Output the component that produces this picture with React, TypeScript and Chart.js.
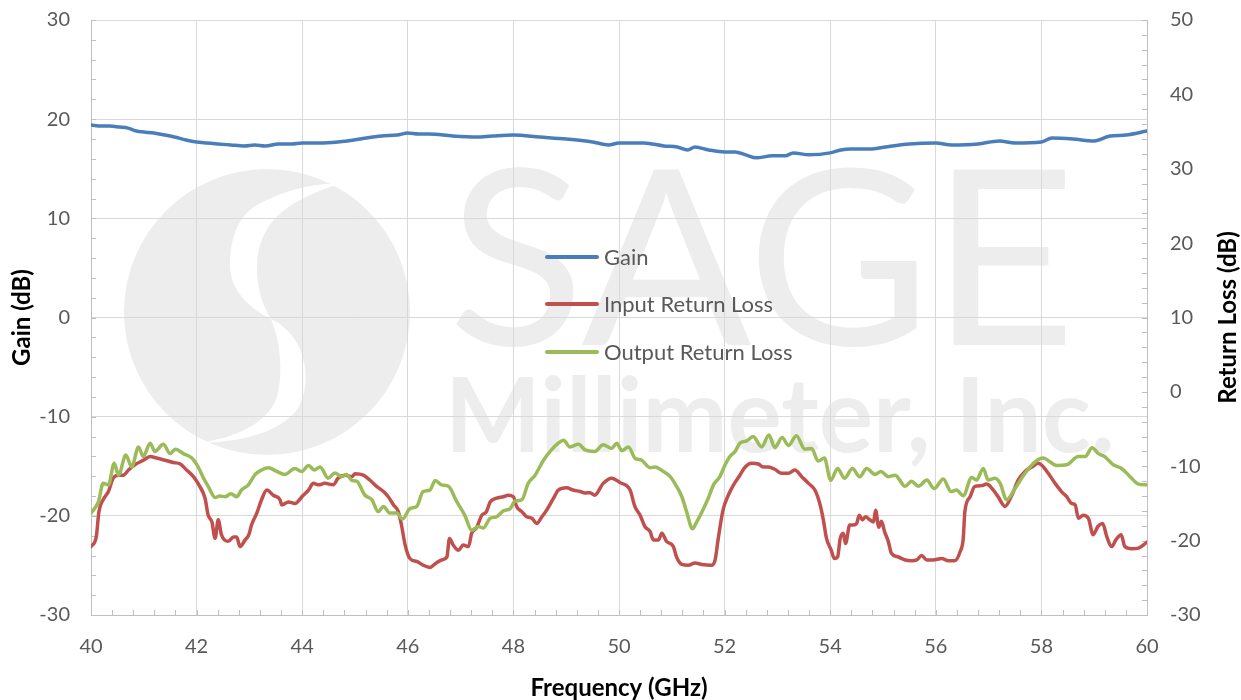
import React, { useEffect, useRef } from 'react';
import { Chart, registerables } from 'chart.js';

Chart.register(...registerables);

// ---------- data ----------
const gainFreq = [40.0, 40.2, 40.35, 40.54, 40.7, 40.86, 41.0, 41.19, 41.4, 41.58, 41.8, 42.0, 42.2, 42.4, 42.65, 42.9, 43.1, 43.3, 43.55, 43.8, 44.0, 44.4, 44.85, 45.1, 45.5, 45.8, 46.0, 46.2, 46.4, 46.85, 47.3, 47.6, 48.0, 48.5, 49.0, 49.5, 49.8, 50.0, 50.47, 50.85, 51.1, 51.3, 51.44, 51.7, 52.0, 52.2, 52.4, 52.6, 52.9, 53.15, 53.3, 53.6, 54.0, 54.2, 54.4, 54.8, 55.05, 55.5, 56.0, 56.3, 56.8, 57.2, 57.5, 58.0, 58.2, 58.6, 59.0, 59.3, 59.6, 60.0];
const gainDb = [19.4, 19.3, 19.3, 19.2, 19.1, 18.8, 18.7, 18.6, 18.4, 18.2, 17.9, 17.7, 17.6, 17.5, 17.4, 17.3, 17.4, 17.3, 17.5, 17.5, 17.6, 17.6, 17.8, 18.0, 18.3, 18.4, 18.6, 18.5, 18.5, 18.3, 18.2, 18.3, 18.4, 18.2, 18.0, 17.7, 17.4, 17.6, 17.6, 17.3, 17.2, 16.9, 17.2, 16.9, 16.7, 16.7, 16.4, 16.1, 16.3, 16.3, 16.6, 16.4, 16.6, 16.9, 17.0, 17.0, 17.2, 17.5, 17.6, 17.4, 17.5, 17.8, 17.6, 17.7, 18.1, 18.0, 17.8, 18.3, 18.4, 18.8];

const inputFreq = [40.0, 40.1, 40.15, 40.23, 40.33, 40.42, 40.52, 40.61, 40.71, 40.83, 40.99, 41.12, 41.24, 41.4, 41.56, 41.69, 41.81, 41.94, 42.06, 42.16, 42.22, 42.29, 42.35, 42.41, 42.47, 42.6, 42.7, 42.76, 42.82, 42.92, 42.99, 43.04, 43.14, 43.23, 43.33, 43.45, 43.58, 43.61, 43.74, 43.86, 44.02, 44.12, 44.21, 44.31, 44.43, 44.59, 44.68, 44.81, 44.94, 45.0, 45.16, 45.28, 45.41, 45.54, 45.63, 45.73, 45.82, 45.88, 45.95, 46.04, 46.17, 46.29, 46.42, 46.52, 46.64, 46.74, 46.79, 46.86, 46.96, 47.05, 47.15, 47.21, 47.3, 47.4, 47.49, 47.56, 47.68, 47.81, 47.9, 48.0, 48.06, 48.16, 48.25, 48.35, 48.44, 48.54, 48.63, 48.76, 48.85, 49.01, 49.13, 49.26, 49.36, 49.45, 49.54, 49.7, 49.86, 50.02, 50.21, 50.3, 50.4, 50.49, 50.59, 50.65, 50.75, 50.81, 50.9, 51.03, 51.09, 51.19, 51.31, 51.44, 51.57, 51.75, 51.82, 51.88, 51.97, 52.07, 52.17, 52.29, 52.39, 52.51, 52.64, 52.73, 52.83, 52.95, 53.08, 53.21, 53.33, 53.46, 53.59, 53.71, 53.81, 53.87, 53.93, 54.02, 54.08, 54.14, 54.19, 54.25, 54.29, 54.37, 54.44, 54.5, 54.55, 54.61, 54.67, 54.75, 54.82, 54.86, 54.92, 54.97, 55.03, 55.1, 55.16, 55.29, 55.42, 55.54, 55.64, 55.73, 55.83, 55.95, 56.11, 56.24, 56.36, 56.46, 56.52, 56.55, 56.65, 56.74, 56.87, 56.96, 57.09, 57.18, 57.31, 57.44, 57.56, 57.69, 57.82, 57.94, 58.04, 58.13, 58.26, 58.38, 58.48, 58.57, 58.64, 58.7, 58.79, 58.89, 58.98, 59.07, 59.16, 59.24, 59.33, 59.41, 59.51, 59.58, 59.71, 59.84, 60.0];
const inputDb = [-20.8, -19.5, -16.1, -14.5, -13.4, -11.6, -11.2, -11.2, -10.5, -9.8, -9.2, -8.7, -8.9, -9.2, -9.5, -9.7, -10.5, -11.4, -12.7, -14.3, -16.6, -17.5, -19.7, -17.2, -19.2, -20.1, -19.5, -19.5, -20.8, -19.9, -19.2, -17.9, -16.3, -14.5, -13.2, -13.9, -14.5, -15.2, -14.8, -15.0, -13.9, -13.2, -12.3, -12.5, -12.3, -12.5, -11.6, -11.2, -11.4, -11.0, -11.2, -11.85, -12.7, -13.4, -14.1, -15.2, -16.1, -17.9, -20.6, -22.4, -22.8, -23.3, -23.6, -23.1, -22.6, -22.2, -19.7, -20.6, -21.3, -20.6, -20.8, -19.0, -18.3, -16.6, -16.1, -14.8, -14.3, -14.1, -13.9, -14.1, -15.4, -16.1, -16.8, -17.0, -17.7, -16.8, -15.9, -14.3, -13.2, -12.9, -13.2, -13.4, -13.6, -13.55, -13.9, -12.3, -11.6, -12.2, -13.2, -15.4, -16.6, -18.1, -18.8, -19.9, -19.9, -19.0, -20.1, -20.8, -22.2, -23.2, -23.3, -23.0, -23.2, -23.3, -22.6, -19.7, -15.9, -13.9, -12.5, -11.2, -10.1, -9.6, -9.7, -10.1, -10.1, -10.4, -10.95, -10.95, -10.5, -11.4, -12.3, -13.2, -15.2, -17.2, -19.7, -21.3, -22.4, -22.2, -19.7, -19.0, -20.4, -17.9, -17.9, -17.7, -16.6, -17.2, -16.8, -17.2, -17.5, -15.9, -18.2, -17.4, -18.8, -20.1, -21.7, -22.2, -22.6, -22.7, -22.6, -22.0, -22.6, -22.6, -22.4, -22.7, -22.7, -21.5, -19.7, -16.1, -14.1, -12.7, -12.6, -12.4, -13.2, -14.1, -15.4, -13.9, -11.85, -10.7, -10.1, -9.6, -10.1, -10.95, -12.3, -13.4, -14.1, -15.0, -15.2, -17.0, -16.6, -17.0, -19.2, -18.1, -17.7, -19.5, -20.8, -19.9, -19.2, -20.8, -21.1, -21.0, -20.2];

const outputFreq = [40.0, 40.14, 40.23, 40.33, 40.44, 40.52, 40.66, 40.77, 40.9, 40.99, 41.12, 41.21, 41.37, 41.5, 41.6, 41.75, 41.91, 42.03, 42.13, 42.22, 42.35, 42.44, 42.54, 42.65, 42.76, 42.85, 42.98, 43.11, 43.23, 43.36, 43.52, 43.67, 43.86, 43.99, 44.12, 44.23, 44.34, 44.49, 44.62, 44.75, 44.84, 44.94, 45.03, 45.19, 45.32, 45.44, 45.54, 45.66, 45.79, 45.9, 46.04, 46.17, 46.29, 46.42, 46.52, 46.64, 46.77, 46.93, 47.08, 47.21, 47.34, 47.43, 47.56, 47.68, 47.81, 47.94, 48.03, 48.16, 48.28, 48.41, 48.57, 48.72, 48.85, 48.95, 49.07, 49.23, 49.36, 49.54, 49.7, 49.86, 49.96, 50.05, 50.18, 50.3, 50.43, 50.59, 50.68, 50.84, 50.97, 51.09, 51.19, 51.28, 51.39, 51.47, 51.6, 51.69, 51.79, 51.91, 52.01, 52.1, 52.2, 52.29, 52.42, 52.54, 52.7, 52.84, 52.95, 53.09, 53.21, 53.36, 53.52, 53.65, 53.77, 53.89, 54.01, 54.14, 54.27, 54.42, 54.56, 54.69, 54.85, 54.96, 55.1, 55.23, 55.42, 55.54, 55.67, 55.83, 55.97, 56.14, 56.29, 56.39, 56.52, 56.68, 56.77, 56.9, 56.99, 57.12, 57.22, 57.34, 57.5, 57.69, 57.88, 58.04, 58.16, 58.29, 58.48, 58.7, 58.83, 58.96, 59.08, 59.2, 59.36, 59.52, 59.68, 59.84, 60.0];
const outputDb = [-16.3, -14.8, -12.3, -12.5, -9.6, -11.2, -8.5, -10.1, -7.4, -8.7, -6.9, -8.0, -7.05, -8.3, -7.7, -8.3, -8.9, -10.1, -11.6, -12.7, -14.2, -14.0, -14.1, -13.7, -14.1, -13.2, -12.5, -11.1, -10.5, -10.2, -10.7, -11.1, -10.3, -10.7, -9.9, -10.5, -10.1, -11.6, -10.9, -11.4, -11.1, -11.9, -12.0, -13.9, -14.5, -16.1, -15.4, -16.3, -16.3, -17.1, -15.7, -15.4, -13.4, -13.2, -11.9, -12.5, -12.7, -14.8, -16.6, -18.6, -18.1, -18.3, -17.0, -16.8, -16.0, -15.7, -14.7, -14.5, -12.3, -11.2, -9.2, -7.8, -6.9, -6.5, -7.4, -7.05, -7.8, -8.0, -7.1, -7.6, -6.9, -7.9, -7.4, -8.9, -9.2, -10.2, -10.1, -10.7, -11.4, -12.7, -14.1, -16.1, -18.4, -17.5, -15.7, -14.3, -12.5, -11.4, -9.8, -8.7, -8.0, -6.9, -6.6, -6.0, -7.4, -5.8, -7.5, -6.15, -7.2, -5.9, -7.7, -7.6, -9.3, -8.9, -11.9, -10.3, -11.6, -10.3, -11.4, -10.3, -11.1, -10.7, -11.4, -11.2, -12.7, -12.0, -12.7, -11.85, -13.0, -11.7, -13.4, -13.2, -13.95, -11.5, -11.85, -10.3, -11.85, -11.6, -12.3, -14.5, -13.0, -10.95, -9.4, -8.9, -9.4, -9.9, -9.8, -8.7, -8.7, -7.5, -8.3, -8.7, -9.8, -10.3, -11.4, -12.4, -12.5];

const seriesNames = ['Gain', 'Input Return Loss', 'Output Return Loss'];
const seriesColors = ['#4a7ebb', '#c0504d', '#9bbb59'];
const xTitle = 'Frequency (GHz)';
const yTitle = 'Gain (dB)';
const y1Title = 'Return Loss (dB)';

const FONT = 'Lato, "Open Sans", sans-serif';
const TICK_COLOR = '#595959';
const GRID = '#d9d9d9';
const AXIS = '#bfbfbf';

const pts = (fs: number[], vs: number[]) => fs.map((f, i) => ({ x: f, y: vs[i] }));

// ---------- plugins ----------
const watermarkPlugin = {
  id: 'watermark',
  beforeDraw(chart: any) {
    const ctx = chart.ctx as CanvasRenderingContext2D;
    ctx.save();
    const wm = '#ededed';
    ctx.fillStyle = wm;
    ctx.beginPath();
    ctx.arc(267, 312, 143, 0, Math.PI * 2);
    ctx.fill();
    ctx.fillStyle = '#ffffff';
    ctx.beginPath();
    ctx.moveTo(340, 184);
    ctx.bezierCurveTo(310, 182, 270, 195, 250, 210);
    ctx.bezierCurveTo(232, 225, 228, 255, 231, 275);
    ctx.bezierCurveTo(234, 293, 252, 310, 271, 319);
    ctx.bezierCurveTo(262, 305, 256, 285, 257, 265);
    ctx.bezierCurveTo(258, 240, 268, 222, 287, 208);
    ctx.bezierCurveTo(303, 197, 320, 190, 340, 184);
    ctx.closePath();
    ctx.fill();
    ctx.beginPath();
    ctx.moveTo(271, 319);
    ctx.bezierCurveTo(280, 340, 283, 370, 278, 393);
    ctx.bezierCurveTo(272, 418, 245, 436, 200, 443);
    ctx.bezierCurveTo(250, 442, 285, 428, 298, 408);
    ctx.bezierCurveTo(310, 388, 307, 358, 295, 340);
    ctx.bezierCurveTo(288, 330, 280, 323, 271, 319);
    ctx.closePath();
    ctx.fill();
    ctx.fillStyle = wm;
    ctx.textBaseline = 'alphabetic';
    ctx.textAlign = 'left';
    const fitText = (t: string, x0: number, x1: number, base: number, font: string) => {
      ctx.font = font;
      const w = ctx.measureText(t).width;
      ctx.save();
      ctx.translate(x0, base);
      ctx.scale((x1 - x0) / w, 1);
      ctx.fillText(t, 0, 0);
      ctx.restore();
    };
    fitText('SAGE', 448, 1076, 345, `400 244px ${FONT}`);
    fitText('Millimeter, Inc.', 445, 1115, 452, `700 103px ${FONT}`);
    ctx.restore();
  },
};

const minorTicksPlugin = {
  id: 'minorTicks',
  beforeDatasetsDraw(chart: any) {
    const ctx = chart.ctx as CanvasRenderingContext2D;
    const { left, right, bottom } = chart.chartArea;
    const sx = chart.scales.x, sy = chart.scales.y, sy1 = chart.scales.y1;
    ctx.save();
    ctx.strokeStyle = AXIS;
    ctx.lineWidth = 1;
    ctx.beginPath();
    for (let v = -30; v <= 30; v += 2) {
      const p = Math.round(sy.getPixelForValue(v)) + 0.5;
      ctx.moveTo(left, p); ctx.lineTo(left + 5, p);
    }
    for (let v = -30; v <= 50; v += 2) {
      const p = Math.round(sy1.getPixelForValue(v)) + 0.5;
      ctx.moveTo(right - 5, p); ctx.lineTo(right, p);
    }
    for (let i = 0; i <= 50; i++) {
      const p = Math.round(sx.getPixelForValue(40 + i * 0.4)) + 0.5;
      ctx.moveTo(p, bottom); ctx.lineTo(p, bottom - 5);
    }
    ctx.stroke();
    ctx.restore();
  },
};

const overlayPlugin = {
  id: 'overlay',
  afterDraw(chart: any) {
    const ctx = chart.ctx as CanvasRenderingContext2D;
    const { top, bottom } = chart.chartArea;
    ctx.save();
    ctx.translate(1228, (top + bottom) / 2);
    ctx.rotate(-Math.PI / 2);
    ctx.font = `700 24px ${FONT}`;
    ctx.fillStyle = '#000000';
    ctx.textAlign = 'center';
    ctx.textBaseline = 'middle';
    ctx.fillText(y1Title, 0, 0);
    ctx.restore();
    const ys = [257, 304, 352];
    ctx.save();
    chart.data.datasets.forEach((ds: any, i: number) => {
      ctx.strokeStyle = ds.borderColor;
      ctx.lineWidth = 4;
      ctx.lineCap = 'round';
      ctx.beginPath();
      ctx.moveTo(547, ys[i]);
      ctx.lineTo(597, ys[i]);
      ctx.stroke();
      ctx.font = `400 22px ${FONT}`;
      ctx.fillStyle = TICK_COLOR;
      ctx.textAlign = 'left';
      ctx.textBaseline = 'middle';
      ctx.fillText(ds.label, 604, ys[i] + 1);
    });
    ctx.restore();
  },
};

const noPadV = (w: number) => (s: any) => { s.width = w; s.paddingTop = 0; s.paddingBottom = 0; };

export default function App() {
  const ref = useRef<HTMLCanvasElement | null>(null);

  useEffect(() => {
    document.body.style.margin = '0';
    document.body.style.overflow = 'hidden';
    const canvas = ref.current;
    if (!canvas) return;
    const tickFont = { family: FONT, size: 20 };
    const titleFont = { family: FONT, size: 24, weight: 'bold' as const, lineHeight: 1 };
    const chart = new Chart(canvas, {
      type: 'line',
      data: {
        datasets: [
          { label: seriesNames[0], data: pts(gainFreq, gainDb), yAxisID: 'y', borderColor: seriesColors[0], order: 2 },
          { label: seriesNames[1], data: pts(inputFreq, inputDb), yAxisID: 'y1', borderColor: seriesColors[1], order: 1 },
          { label: seriesNames[2], data: pts(outputFreq, outputDb), yAxisID: 'y1', borderColor: seriesColors[2], order: 0 },
        ],
      },
      options: {
        responsive: false,
        animation: false,
        devicePixelRatio: 1,
        layout: { padding: { top: 20, left: 0, right: 0, bottom: 0 } },
        elements: {
          point: { radius: 0, hoverRadius: 0 },
          line: { borderWidth: 3.5, cubicInterpolationMode: 'monotone', borderJoinStyle: 'round', borderCapStyle: 'round', fill: false },
        },
        plugins: { legend: { display: false }, tooltip: { enabled: false } },
        scales: {
          x: {
            type: 'linear',
            position: 'bottom',
            min: 40,
            max: 60,
            ticks: { stepSize: 2, font: tickFont, color: TICK_COLOR, padding: 20, maxRotation: 0, autoSkip: false },
            grid: { color: GRID, drawTicks: false, lineWidth: 1 },
            border: { display: true, color: AXIS },
            title: { display: true, text: xTitle, font: titleFont, color: '#000000', padding: 0 },
            afterFit: (s: any) => { s.height = 85; s.paddingLeft = 0; s.paddingRight = 0; },
          },
          y: {
            type: 'linear',
            position: 'left',
            min: -30,
            max: 30,
            ticks: { stepSize: 10, font: tickFont, color: TICK_COLOR, padding: 21 },
            grid: { color: GRID, drawTicks: false, lineWidth: 1 },
            border: { display: true, color: AXIS },
            title: { display: true, text: yTitle, font: titleFont, color: '#000000', padding: { top: 10, bottom: 0 } },
            afterFit: noPadV(91),
          },
          y1: {
            type: 'linear',
            position: 'right',
            min: -30,
            max: 50,
            ticks: { stepSize: 10, font: tickFont, color: TICK_COLOR, padding: 23 },
            grid: { drawOnChartArea: false, drawTicks: false },
            border: { display: true, color: AXIS },
            title: { display: false },
            afterFit: noPadV(94),
          },
        },
      },
      plugins: [watermarkPlugin, minorTicksPlugin, overlayPlugin],
    });
    return () => chart.destroy();
  }, []);

  return (
    <div style={{ width: 1241, height: 700, position: 'relative' }}>
      <canvas ref={ref} width={1241} height={700} style={{ display: 'block' }} />
    </div>
  );
}
